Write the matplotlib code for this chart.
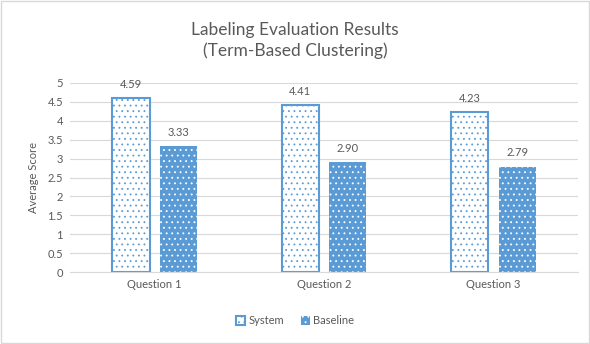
import numpy as np
import matplotlib.pyplot as plt

plt.rcParams["font.family"] = ["Lato", "DejaVu Sans"]
plt.rcParams["hatch.linewidth"] = 0.6

categories = ["Question 1", "Question 2", "Question 3"]
system = [4.59, 4.41, 4.23]
baseline = [3.33, 2.90, 2.79]

BLUE = "#5B9BD5"
TEXT = "#595959"
GRID = "#D9D9D9"

fig = plt.figure(figsize=(5.9, 3.44), dpi=100)
ax = fig.add_axes([0.1186, 0.209, 0.8614, 0.55])

x = np.arange(len(categories))
width = 0.22
gap = 0.06

sys_bars = ax.bar(x - (width + gap) / 2, system, width, facecolor="white",
                  edgecolor=BLUE, linewidth=1.5, hatch="...", label="System", zorder=2)
base_bars = ax.bar(x + (width + gap) / 2, baseline, width, facecolor=BLUE,
                   edgecolor="white", linewidth=0, hatch="...", label="Baseline", zorder=2)

for bars, vals in ((sys_bars, system), (base_bars, baseline)):
    for b, v in zip(bars, vals):
        ax.annotate(f"{v:.2f}", (b.get_x() + b.get_width() / 2, v),
                    xytext=(0, 6), textcoords="offset points",
                    ha="center", va="bottom", fontsize=8, color=TEXT)

ax.set_xlim(-0.5, 2.5)
ax.set_ylim(0, 5)
ax.set_yticks(np.arange(0, 5.01, 0.5))
ax.set_yticklabels(["0", "0.5", "1", "1.5", "2", "2.5", "3", "3.5", "4", "4.5", "5"])
ax.set_xticks(x)
ax.set_xticklabels(categories)
ax.tick_params(axis="both", length=0, labelsize=8, colors=TEXT, pad=5)
ax.grid(axis="y", color=GRID, linewidth=0.8, zorder=0)
ax.set_axisbelow(True)
for side in ("top", "right", "left"):
    ax.spines[side].set_visible(False)
ax.spines["bottom"].set_color(GRID)

ax.set_ylabel("Average Score", fontsize=8, color=TEXT, labelpad=6)

fig.text(0.5, 0.882, "Labeling Evaluation Results\n(Term-Based Clustering)",
         ha="center", va="center", fontsize=12.5, color=TEXT, linespacing=1.35)

leg = fig.legend(handles=[sys_bars, base_bars], loc="center", bbox_to_anchor=(0.5, 0.067),
                 ncol=2, frameon=False, fontsize=8, handlelength=0.8, handleheight=0.8,
                 columnspacing=1.5, handletextpad=0.3)
for t in leg.get_texts():
    t.set_color(TEXT)

fig.add_artist(plt.Rectangle((0.002, 0.003), 0.996, 0.994, transform=fig.transFigure,
                             fill=False, edgecolor=GRID, linewidth=1))

fig.savefig("out.png", dpi=100)
